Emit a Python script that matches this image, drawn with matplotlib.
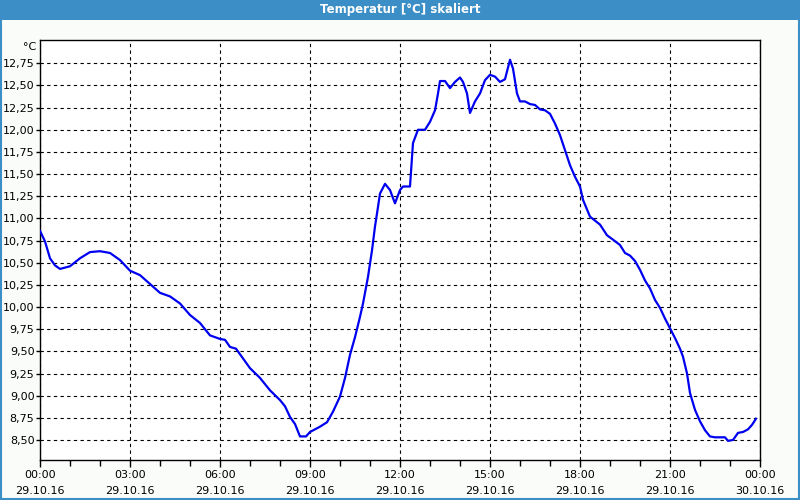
import matplotlib
matplotlib.use('Agg')
import matplotlib.pyplot as plt
from matplotlib.patches import Rectangle
from matplotlib.ticker import FixedLocator, MultipleLocator, FuncFormatter

# hours since 29.10.16 00:00
hours = [0.000, 0.167, 0.333, 0.5, 0.667, 1.0, 1.333, 1.667, 2.0, 2.333, 2.667, 3.0,
         3.333, 3.667, 4.0, 4.333, 4.667, 5.0, 5.333, 5.667, 6.0, 6.167, 6.333, 6.533,
         6.767, 7.0, 7.333, 7.667, 8.0, 8.167, 8.333, 8.5, 8.667, 8.867, 9.0, 9.333,
         9.567, 9.767, 10.0, 10.167, 10.333, 10.5, 10.667, 10.767, 10.933, 11.067, 11.167,
         11.267, 11.333, 11.5, 11.667, 11.833, 12.0, 12.1, 12.333, 12.433, 12.6, 12.833,
         13.0, 13.167, 13.267, 13.333, 13.5, 13.667, 13.833, 14.0, 14.1, 14.233, 14.333,
         14.5, 14.667, 14.833, 15.0, 15.167, 15.333, 15.5, 15.667, 15.767, 15.9, 16.0,
         16.167, 16.333, 16.5, 16.667, 16.833, 17.0, 17.167, 17.333, 17.5, 17.667, 17.833,
         18.0, 18.1, 18.333, 18.667, 18.9, 19.1, 19.333, 19.5, 19.667, 19.833, 20.0,
         20.167, 20.333, 20.5, 20.667, 20.833, 21.0, 21.167, 21.333, 21.433, 21.567,
         21.667, 21.833, 22.0, 22.167, 22.333, 22.5, 22.833, 22.933, 23.1, 23.267, 23.433,
         23.6, 23.733, 23.867]
temps = [10.86, 10.74, 10.55, 10.47, 10.43, 10.46, 10.55, 10.62, 10.63, 10.61, 10.53, 10.41,
         10.36, 10.26, 10.16, 10.12, 10.04, 9.91, 9.82, 9.68, 9.64, 9.63, 9.55, 9.53,
         9.42, 9.31, 9.20, 9.06, 8.95, 8.88, 8.76, 8.68, 8.54, 8.54, 8.59, 8.65,
         8.70, 8.82, 8.99, 9.20, 9.46, 9.66, 9.89, 10.04, 10.34, 10.64, 10.91,
         11.13, 11.28, 11.39, 11.32, 11.17, 11.32, 11.36, 11.36, 11.85, 12.00, 12.00,
         12.09, 12.22, 12.41, 12.55, 12.55, 12.47, 12.54, 12.59, 12.54, 12.41, 12.19,
         12.32, 12.41, 12.56, 12.62, 12.60, 12.54, 12.57, 12.79, 12.69, 12.41, 12.32,
         12.32, 12.29, 12.28, 12.23, 12.22, 12.18, 12.07, 11.94, 11.77, 11.60, 11.47,
         11.36, 11.21, 11.02, 10.93, 10.81, 10.76, 10.70, 10.61, 10.58, 10.52, 10.42,
         10.30, 10.21, 10.08, 9.99, 9.87, 9.76, 9.65, 9.53, 9.44, 9.25,
         9.03, 8.84, 8.71, 8.61, 8.54, 8.53, 8.53, 8.49, 8.50, 8.58, 8.59,
         8.62, 8.67, 8.74]

tick_hours = [0, 3, 6, 9, 12, 15, 18, 21, 24]
tick_labels = ['00:00\n29.10.16', '03:00\n29.10.16', '06:00\n29.10.16', '09:00\n29.10.16',
               '12:00\n29.10.16', '15:00\n29.10.16', '18:00\n29.10.16', '21:00\n29.10.16',
               '00:00\n30.10.16']
y_ticks = [8.50, 8.75, 9.00, 9.25, 9.50, 9.75, 10.00, 10.25, 10.50, 10.75,
           11.00, 11.25, 11.50, 11.75, 12.00, 12.25, 12.50, 12.75]

bg = '#fafcfa'
bar = '#3c8fc6'

fig = plt.figure(figsize=(8, 5), dpi=100, facecolor=bg)

# title bar and frame
fig.patches.append(Rectangle((0, 0.96), 1, 0.04, transform=fig.transFigure,
                             facecolor=bar, edgecolor='none', zorder=0))
fig.patches.append(Rectangle((0.001, 0.002), 0.998, 0.996, transform=fig.transFigure,
                             facecolor='none', edgecolor=bar, linewidth=1.5, zorder=1))
fig.text(0.5, 0.98, 'Temperatur [°C] skaliert', color='white', fontweight='bold',
         fontsize=8.5, ha='center', va='center')

ax = fig.add_axes([0.05, 0.08, 0.90, 0.84], facecolor='white')
ax.plot(hours, temps, color='#0000f0', linewidth=1.6, zorder=3)

ax.set_xlim(0, 24)
ax.set_ylim(8.274, 13.013)

ax.xaxis.set_major_locator(FixedLocator(tick_hours))
ax.set_xticklabels(tick_labels, fontsize=8, linespacing=1.75)
ax.xaxis.set_minor_locator(MultipleLocator(1))
ax.yaxis.set_major_locator(FixedLocator(y_ticks))
ax.yaxis.set_major_formatter(FuncFormatter(lambda v, p: f'{v:.2f}'.replace('.', ',')))
ax.tick_params(axis='y', labelsize=8, length=3, width=1, pad=1)
ax.tick_params(axis='x', which='major', length=5, width=1, pad=2, direction='out')
ax.tick_params(axis='x', which='minor', length=4, width=1, direction='out')

ax.grid(True, which='major', color='black', linestyle=(0, (3, 3)), linewidth=0.8)
for s in ax.spines.values():
    s.set_color('black')
    s.set_linewidth(1)

ax.text(-0.005, 0.995, '°C', transform=ax.transAxes, ha='right', va='top', fontsize=8)

plt.savefig('out.png', dpi=100, facecolor=bg)
